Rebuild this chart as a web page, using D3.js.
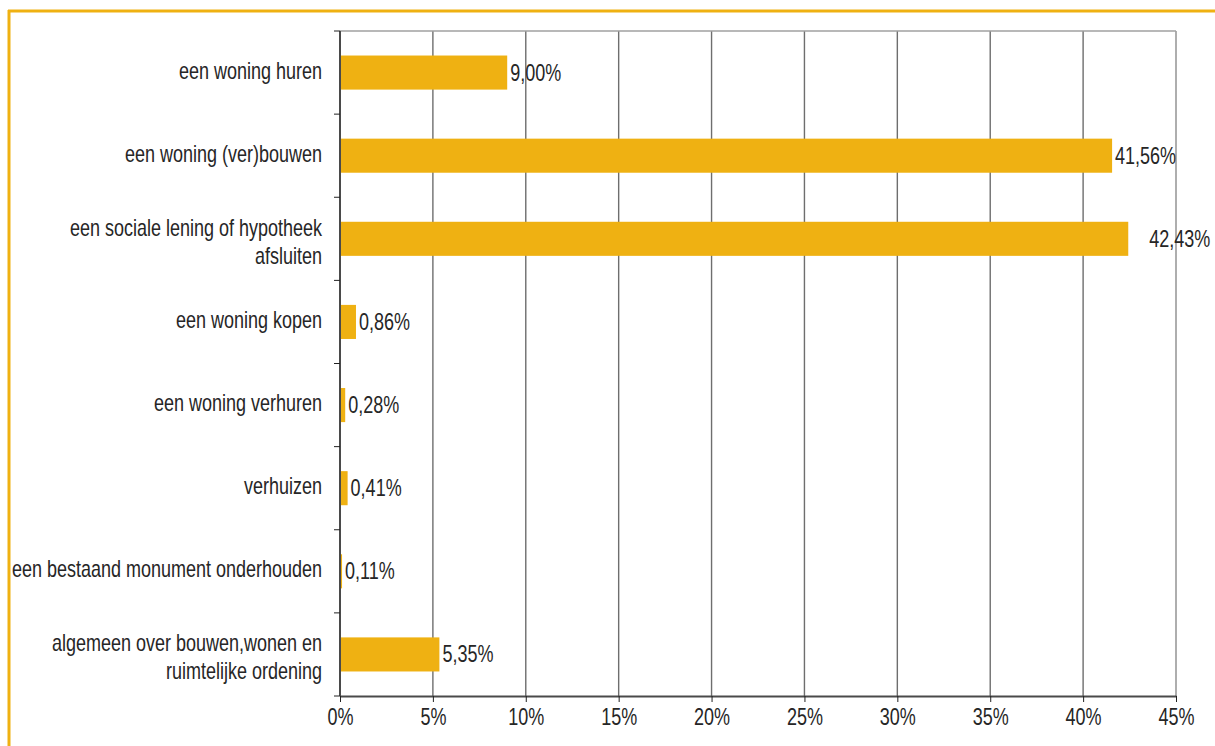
<!DOCTYPE html>
<html>
<head>
<meta charset="utf-8">
<script src="https://cdn.jsdelivr.net/npm/d3@7"></script>
<style>
  html, body { margin: 0; padding: 0; background: #fff; }
  svg text { font-family: "Liberation Sans", Arial, sans-serif; fill: #262626; }
</style>
</head>
<body>
<svg id="chart" width="1215" height="746"></svg>
<script>
// Onderwerpen van vragen (aandeel in %)
const categories = [
  ["een woning huren"],
  ["een woning (ver)bouwen"],
  ["een sociale lening of hypotheek", "afsluiten"],
  ["een woning kopen"],
  ["een woning verhuren"],
  ["verhuizen"],
  ["een bestaand monument onderhouden"],
  ["algemeen over bouwen,wonen en", "ruimtelijke ordening"]
];
const values = [9.00, 41.56, 42.43, 0.86, 0.28, 0.41, 0.11, 5.35];
const valueLabels = ["9,00%", "41,56%", "42,43%", "0,86%", "0,28%", "0,41%", "0,11%", "5,35%"];
const tickValues = [0, 5, 10, 15, 20, 25, 30, 35, 40, 45];

const svg = d3.select("#chart");
const W = 1215, H = 746;
const gold = "#EFB112";
const fontSize = 24;
const squeeze = 0.75;   // condensed look: horizontal scale of all text

// Frame: gold rule along top and left edge
svg.append("line").attr("x1", 8).attr("x2", W).attr("y1", 11).attr("y2", 11)
  .attr("stroke", gold).attr("stroke-width", 3);
svg.append("line").attr("x1", 9).attr("x2", 9).attr("y1", 10).attr("y2", H)
  .attr("stroke", gold).attr("stroke-width", 3);

const plot = { left: 340, right: 1176, top: 31, bottom: 696 };

const x = d3.scaleLinear().domain([0, 45]).range([plot.left, plot.right]);
const y = d3.scaleBand().domain(d3.range(categories.length))
  .range([plot.top, plot.bottom]).paddingInner(0.59).paddingOuter(0.295);
const step = y.step();
const mid = i => y(i) + y.bandwidth() / 2;

// Vertical gridlines
svg.append("g").selectAll("line").data(tickValues.slice(1)).join("line")
  .attr("x1", d => x(d)).attr("x2", d => x(d))
  .attr("y1", plot.top).attr("y2", plot.bottom)
  .attr("stroke", d => d === 45 ? "#8c8c8c" : "#6e6e6e").attr("stroke-width", 1.4);

// Top border of plot area
svg.append("line").attr("x1", plot.left).attr("x2", plot.right)
  .attr("y1", plot.top).attr("y2", plot.top)
  .attr("stroke", "#a0a0a0").attr("stroke-width", 1.4);

// Bars
svg.append("g").selectAll("rect").data(values).join("rect")
  .attr("x", x(0))
  .attr("y", (d, i) => y(i))
  .attr("width", d => x(d) - x(0))
  .attr("height", y.bandwidth())
  .attr("fill", gold);

// Value labels
svg.append("g").selectAll("text").data(values).join("text")
  .attr("transform", (d, i) =>
    `translate(${x(d) + (i === 2 ? 21 : 3)},${mid(i) + 8}) scale(${squeeze},1)`)
  .attr("font-size", fontSize)
  .text((d, i) => valueLabels[i]);

// Left (category) axis with ticks at category boundaries
const leftAxis = svg.append("g");
leftAxis.append("line").attr("x1", plot.left).attr("x2", plot.left)
  .attr("y1", plot.top).attr("y2", plot.bottom)
  .attr("stroke", "#4a4a4a").attr("stroke-width", 2);
leftAxis.selectAll("line.tick").data(d3.range(categories.length + 1)).join("line")
  .attr("class", "tick")
  .attr("x1", plot.left - 6).attr("x2", plot.left)
  .attr("y1", i => plot.top + i * step).attr("y2", i => plot.top + i * step)
  .attr("stroke", "#222").attr("stroke-width", 1);

// Category labels (right aligned, one or two lines)
const lineH = 28;
const cat = svg.append("g").selectAll("text").data(categories).join("text")
  .attr("text-anchor", "end")
  .attr("font-size", fontSize)
  .attr("transform", (d, i) => {
    const base = d.length === 1 ? mid(i) + 6 : mid(i) - 3;
    return `translate(${plot.left - 18},${base}) scale(${squeeze},1)`;
  });
cat.selectAll("tspan").data(d => d.map((t, k) => ({ t, k }))).join("tspan")
  .attr("x", 0)
  .attr("y", d => d.k * lineH)
  .text(d => d.t);

// Bottom (value) axis
const xAxis = d3.axisBottom(x).tickValues(tickValues)
  .tickFormat(d => d + "%").tickSize(6).tickSizeOuter(0);
const gx = svg.append("g").attr("transform", `translate(0,${plot.bottom})`).call(xAxis);
gx.select(".domain").attr("stroke", "#4a4a4a").attr("stroke-width", 2);
gx.selectAll(".tick line").attr("stroke", "#222");
gx.selectAll(".tick text")
  .attr("font-size", fontSize).attr("font-family", null)
  .attr("y", 0).attr("dy", null)
  .attr("transform", `translate(0,29) scale(${squeeze},1)`)
  .style("fill", "#262626");
</script>
</body>
</html>
